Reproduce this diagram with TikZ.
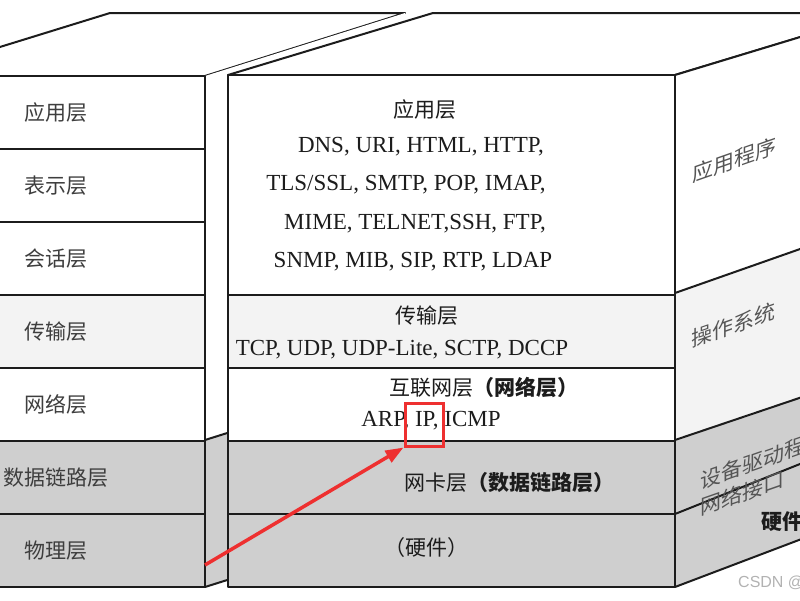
\documentclass[tikz,border=0pt]{standalone}
\usepackage{fontspec}
\setmainfont{Liberation Serif}
\setsansfont{Liberation Sans}
\newfontfamily\cjk{Noto Sans CJK SC}
\usetikzlibrary{arrows.meta, positioning}
\definecolor{edge}{HTML}{1C1C1C}
\definecolor{lowgray}{HTML}{CFCFCF}
\definecolor{midgray}{HTML}{F3F3F3}
\definecolor{marker}{HTML}{EE3030}
\definecolor{sidetext}{HTML}{555555}

\begin{document}
\begin{tikzpicture}[x=1pt, y=-1pt,
  face/.style={draw=edge, line width=2pt, line join=round},
  row/.style={face, rectangle, minimum height=73pt, inner sep=0pt, outer sep=0pt},
  lrow/.style={row, minimum width=299pt, font=\cjk\fontsize{21}{24}\selectfont, text=edge!85},
  rrow/.style={row, minimum width=447pt},
  zh/.style={font=\cjk\fontsize{21}{24}\selectfont, text=edge, inner sep=0pt},
  en/.style={font=\fontsize{23}{26}\selectfont, text=edge, inner sep=0pt},
  sidelbl/.style={font=\cjk\fontsize{21}{24}\selectfont, text=sidetext, yslant=0.35, inner sep=0pt},
  >={Triangle[length=18pt, width=13pt]}]

\useasboundingbox (0,0) rectangle (800,600);
\clip (0,0) rectangle (800,600);

% left stack
\draw[face, fill=white] (-94,76) -- (110,13) -- (405,13) -- (205,76) -- cycle;
\fill[white] (205,76) -- (405,13) -- (405,377) -- (205,440) -- cycle;
\fill[lowgray] (205,440) -- (405,377) -- (405,524) -- (205,587) -- cycle;
\draw[face] (205,440) -- (405,377);
\draw[face] (205,587) -- (405,524);

\node[lrow, fill=white, anchor=north west] (app) at (-94,76) {应用层};
\node[lrow, fill=white, below=0pt of app] (pres) {表示层};
\node[lrow, fill=white, below=0pt of pres] (sess) {会话层};
\node[lrow, fill=midgray, below=0pt of sess] (trans) {传输层};
\node[lrow, fill=white, below=0pt of trans] (net) {网络层};
\node[lrow, fill=lowgray, below=0pt of net] (link) {数据链路层};
\node[lrow, fill=lowgray, below=0pt of link] (phys) {物理层};

% right stack
\draw[face, fill=white] (228,75) -- (433,13) -- (880,13) -- (675,75) -- cycle;
\fill[white] (675,75) -- (820,31) -- (820,242) -- (675,293) -- cycle;
\fill[midgray] (675,293) -- (820,242) -- (820,391) -- (675,440) -- cycle;
\fill[lowgray] (675,440) -- (820,391) -- (820,532) -- (675,587) -- cycle;
\draw[face] (675,75) -- (820,31);
\draw[face] (675,293) -- (820,242);
\draw[face] (675,440) -- (820,391);
\draw[face] (675,514) -- (820,456);
\draw[face] (675,587) -- (820,532);

\node[rrow, minimum height=220pt, fill=white, anchor=north west] (apps) at (228,75) {};
\node[rrow, fill=midgray, below=0pt of apps] (tcp) {};
\node[rrow, fill=white, below=0pt of tcp] (inet) {};
\node[rrow, fill=lowgray, below=0pt of inet] (nic) {};
\node[rrow, fill=lowgray, below=0pt of nic] (hw) {};

\node[zh] (appst) at (425,110) {应用层};
\node[en] (proto1) at (421,147) {DNS, URI, HTML, HTTP,};
\node[en] (proto2) at (406,185) {TLS/SSL, SMTP, POP, IMAP,};
\node[en] (proto3) at (415,224) {MIME, TELNET,SSH, FTP,};
\node[en] (proto4) at (413,262) {SNMP, MIB, SIP, RTP, LDAP};
\node[zh] (tcpt) at (427,316) {传输层};
\node[en] (tcpp) at (402,350) {TCP, UDP, UDP-Lite, SCTP, DCCP};
\node[zh] (inett) at (484,387) {互联网层\textbf{（网络层）}};
\node[en] (inetp) at (431,421) {ARP, IP, ICMP};
\node[zh] (nict) at (509,483) {网卡层\textbf{（数据链路层）}};
\node[zh] (hwt) at (426,548) {（硬件）};

% side labels
\node[sidelbl] (sapp) at (734,160) {应用程序};
\node[sidelbl] (sos) at (733,325) {操作系统};
\node[sidelbl] (sdrv) at (763,459) {设备驱动程序};
\node[sidelbl] (snic) at (742,493) {网络接口};
\node[zh, font=\cjk\bfseries\fontsize{21}{24}\selectfont] (shw) at (782,522) {硬件};

% highlight
\node[draw=marker, line width=3pt, minimum width=38pt, minimum height=43pt, inner sep=0pt] (ipbox) at (424,424.5) {};
\coordinate (tail) at (205,565);
\draw[->, marker, line width=3.5pt] (tail) -- (ipbox.south west);

\node[font=\sffamily\fontsize{16}{18}\selectfont, text=black!30, anchor=west, inner sep=0pt] (wm) at (738,583) {CSDN @};
\end{tikzpicture}
\end{document}
